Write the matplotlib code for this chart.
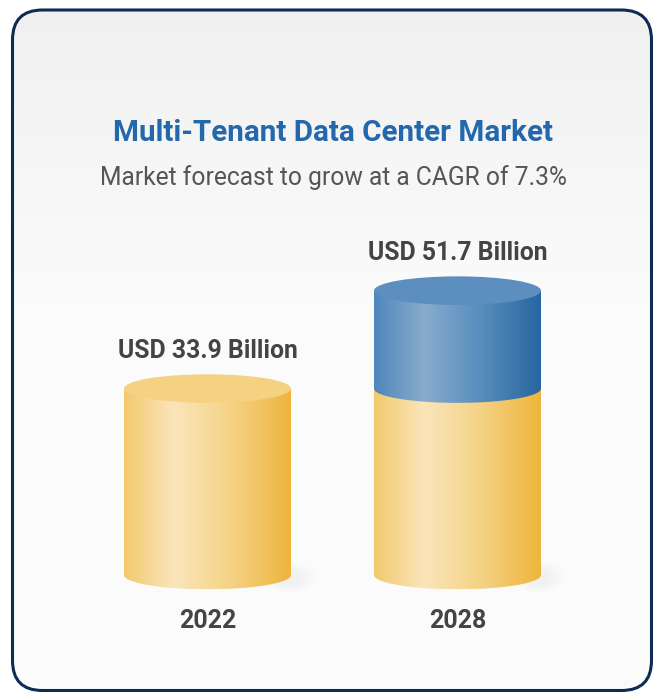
import matplotlib.pyplot as plt
import numpy as np
from matplotlib.patches import FancyBboxPatch, Ellipse, Polygon
from matplotlib.colors import LinearSegmentedColormap

plt.rcParams['font.family'] = ['Roboto', 'DejaVu Sans']

# data
years = ['2022', '2028']
market_usd_bn = [33.9, 51.7]     # total height of each column
base_usd_bn = [33.9, 33.9]       # yellow (2022 level) part of each column
title = 'Multi-Tenant Data Center Market'
subtitle = 'Market forecast to grow at a CAGR of 7.3%'

yellow = LinearSegmentedColormap.from_list(
    'yel', [(0, '#f2ca6e'), (0.3, '#fae5bb'), (0.62, '#f5d489'), (1, '#eeb53c')])
blue = LinearSegmentedColormap.from_list(
    'blu', [(0, '#4f86bb'), (0.3, '#88accd'), (0.62, '#5b8fbf'), (1, '#2766a0')])

fig = plt.figure(figsize=(6.55, 6.92), dpi=100)

# background card, in pixel coords
bg = fig.add_axes([0, 0, 1, 1])
bg.set_xlim(0, 655)
bg.set_ylim(692, 0)
bg.axis('off')
frame = FancyBboxPatch((12.5, 10), 639, 680.5, boxstyle='round,pad=0,rounding_size=30',
                       fc='none', ec='#0c2c52', lw=2.2, zorder=5)
bg.add_patch(frame)
shade = np.clip(np.linspace(0, 692, 692) / 300.0, 0, 1)[:, None]
bgmap = LinearSegmentedColormap.from_list('bg', ['#f0f0f0', '#fbfbfb'])
im = bg.imshow(shade, cmap=bgmap, extent=(0, 655, 692, 0), aspect='auto', zorder=1)
im.set_clip_path(frame)

bg.text(333, 141, title, ha='center', va='baseline', fontsize=21.3,
        fontweight='bold', color='#2368ab')
bg.text(333, 185, subtitle, ha='center', va='baseline', fontsize=17.7, color='#555555')

# chart axes in value units
ax = fig.add_axes([32.5 / 655, (692 - 630) / 692, 600 / 655, 412.5 / 692])
ax.set_zorder(2)
ax.axis('off')

w = 0.668
eh = 2.6


def cylinder(x, y0, y1, cmap, top_color, z):
    t = np.linspace(np.pi, 2 * np.pi, 80)
    arc = list(zip(x + w / 2 * np.cos(t), y0 + eh * np.sin(t)))
    verts = [(x - w / 2, y1)] + arc + [(x + w / 2, y1)]
    poly = Polygon(verts, closed=True, fc='none', ec='none')
    ax.add_patch(poly)
    img = ax.imshow(np.linspace(0, 1, 256)[None, :], cmap=cmap, aspect='auto',
                    extent=(x - w / 2, x + w / 2, y0 - eh, y1), origin='lower',
                    interpolation='bilinear', zorder=z)
    img.set_clip_path(poly)
    if top_color:
        ax.add_patch(Ellipse((x, y1), w, 2 * eh, fc=top_color, ec='none', zorder=z + 0.5))


for i, (yr, base, total) in enumerate(zip(years, base_usd_bn, market_usd_bn)):
    # faint shadow on the floor
    for k in range(5):
        ax.add_patch(Ellipse((i + w / 2 - 0.01, -0.4), 0.1 + k * 0.03, 3.0 + k * 0.6,
                             fc='#a0a0a0', ec='none', alpha=0.02, zorder=3))
    cylinder(i, 0, base, yellow, '#f5d282' if total <= base else None, 4)
    if total > base:
        cylinder(i, base, total, blue, '#5c8fbf', 6)
    ax.annotate(f'USD {total} Billion', (i, total), xytext=(0, 22.3), textcoords='offset points',
                ha='center', va='baseline', fontsize=17.8, fontweight='bold', color='#444444')
    ax.annotate(yr, (i, 0), xytext=(0, -38), textcoords='offset points',
                ha='center', va='baseline', fontsize=18, fontweight='bold', color='#444444')

ax.set_xlim(-0.7, 1.7)
ax.set_ylim(-10, 65)

fig.savefig('out.png', dpi=100)
